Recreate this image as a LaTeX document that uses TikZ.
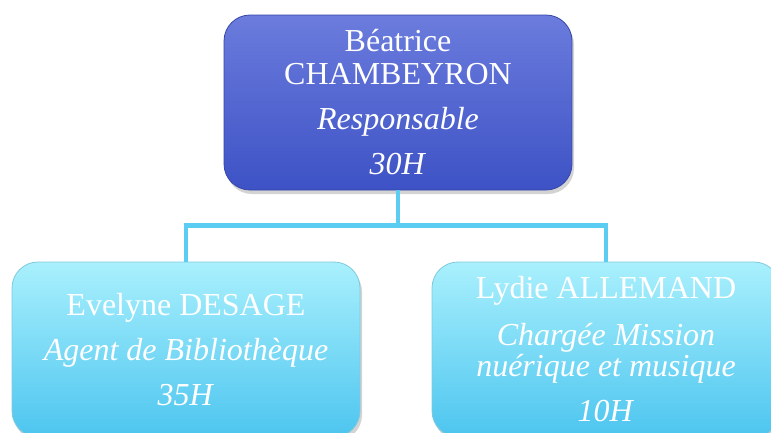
\documentclass[tikz,border=0pt]{standalone}
\usepackage{fontspec}
\setmainfont{Liberation Serif}
\usepackage{xcolor}
\usetikzlibrary{
    positioning,
    shadows,
    calc
}
\definecolor{bossTop}{HTML}{6B7CDD}
\definecolor{bossBot}{HTML}{3D52C5}
\definecolor{bossLine}{HTML}{3446A8}
\definecolor{staffTop}{HTML}{A9F0FD}
\definecolor{staffBot}{HTML}{4DC5EF}
\definecolor{staffLine}{HTML}{7FC9DC}
\definecolor{linkBlue}{HTML}{5CCDF2}
\tikzset{%
    % Specifications for style of nodes:
    plain/.style = {},
    box/.style = {
        plain,
        rectangle, rounded corners=26pt,
        minimum width=348pt, minimum height=175pt,
        text centered, align=center, text=white,
        font=\fontsize{32}{45}\selectfont,
        drop shadow={opacity=0.35, shadow xshift=2pt, shadow yshift=-4pt}
    },
    boss/.style = {box, draw=bossLine, line width=0.8pt,
        top color=bossTop, bottom color=bossBot},
    staff/.style = {box, draw=staffLine, line width=0.8pt,
        top color=staffTop, bottom color=staffBot},
    link/.style = {draw=linkBlue, line width=4.5pt}
}
\begin{document}
\begin{tikzpicture}[x=1pt, y=1pt, node distance=247pt]
\useasboundingbox (0,0) rectangle (771,-432);
\clip (0,0) rectangle (771,-432);
% Specification of nodes (position, etc.)
\node (chef)    [boss] at (398,-102.5) {B\'eatrice\\[-12pt]CHAMBEYRON\\\textit{Responsable}\\\textit{30H}};
\node (evelyne) [staff, below of=chef, xshift=-212pt] {Evelyne DESAGE\\\textit{Agent de Biblioth\`eque}\\\textit{35H}};
\node (lydie)   [staff, below of=chef, xshift=208pt] {Lydie ALLEMAND\\[2pt]\textit{Charg\'ee Mission}\\[-14pt]\textit{nu\'erique et musique}\\\textit{10H}};
% Specification of paths
\draw[link] (chef.south) -- ++(0,-35) coordinate (split) -| (evelyne.north);
\draw[link] (split) -| (lydie.north);
\end{tikzpicture}
\end{document}
